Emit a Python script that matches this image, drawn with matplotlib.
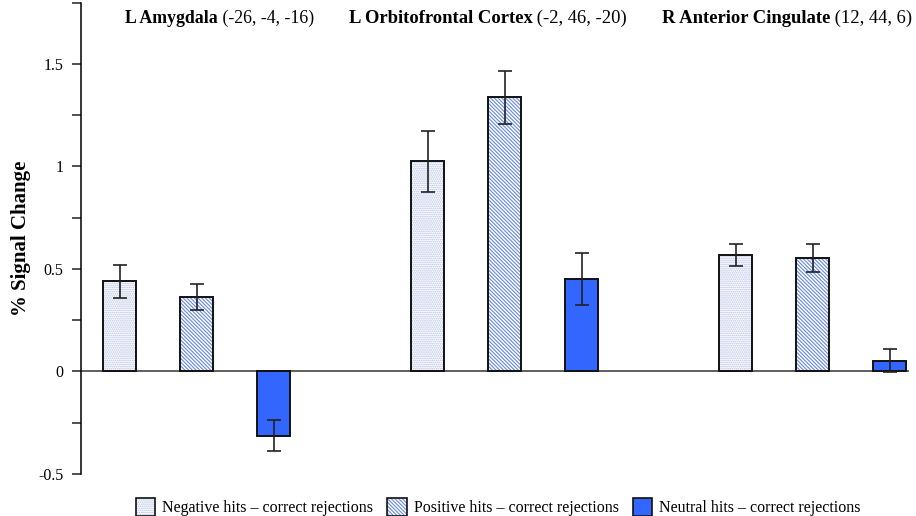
"""Signal change bar chart for three regions of interest."""

import matplotlib

matplotlib.use("Agg")
import matplotlib.pyplot as plt
import numpy as np
from matplotlib.legend_handler import HandlerTuple
from matplotlib.patches import Patch
from matplotlib.ticker import FixedLocator

plt.rcParams["font.family"] = ["Liberation Serif", "DejaVu Serif"]
plt.rcParams["hatch.linewidth"] = 0.8

# Data
regions = ["L Amygdala", "L Orbitofrontal Cortex", "R Anterior Cingulate"]
coords = ["(-26, -4, -16)", "(-2, 46, -20)", "(12, 44, 6)"]
conditions = [
    "Negative hits \u2013 correct rejections",
    "Positive hits \u2013 correct rejections",
    "Neutral hits \u2013 correct rejections",
]
# one row per condition, one column per region
means = np.array([
    [0.44, 1.023, 0.567],
    [0.363, 1.335, 0.552],
    [-0.313, 0.452, 0.053],
])
errors = np.array([
    [0.081, 0.147, 0.055],
    [0.064, 0.127, 0.068],
    [0.076, 0.127, 0.054],
])
yticks = [-0.5, 0, 0.5, 1, 1.5]
yticklabels = ["-0.5", "0", "0.5", "1", "1.5"]

# Styling per condition
face_colors = ["white", "white", "#3366ff"]
hatch_colors = ["#b3bee6", "#6688ea", "#3366ff"]
hatches = ["........", "\\" * 9, None]

GROUP_STEP = 4
BAR_W = 0.43
YMAX = 1.795

fig = plt.figure(figsize=(9.16, 5.16), dpi=100)
ax = fig.add_axes([0.0884, 0.0814, 0.904, 0.9126])

for c in range(len(conditions)):
    x = np.arange(len(regions)) * GROUP_STEP + c
    # hatched fill first, black outline drawn on top
    ax.bar(x, means[c], width=BAR_W, color=face_colors[c],
           edgecolor=hatch_colors[c], hatch=hatches[c], linewidth=0, zorder=2)
    ax.bar(x, means[c], width=BAR_W, fill=False, edgecolor="#111111",
           linewidth=1.4, zorder=3)
    ax.errorbar(x, means[c], yerr=errors[c], fmt="none", ecolor="#222222",
                elinewidth=1.2, capsize=4.8, capthick=1.2, zorder=4)

ax.axhline(0, color="#444444", linewidth=1.2, zorder=1)

ax.set_xlim(-0.506, 10.25)
ax.set_ylim(-0.5, YMAX)
ax.set_xticks([])
ax.set_yticks(yticks)
ax.set_yticklabels(yticklabels, fontsize=11.5)
ax.yaxis.set_minor_locator(FixedLocator([-0.25, 0.25, 0.75, 1.25, YMAX]))
ax.tick_params(axis="y", which="both", direction="out", length=6.5, width=1.1,
               color="#222222", pad=6)
for side in ("top", "right", "bottom"):
    ax.spines[side].set_visible(False)
ax.spines["left"].set_linewidth(1.1)
ax.set_ylabel("% Signal Change", fontsize=15, fontweight="bold", labelpad=5)

# Region headings: bold name followed by MNI coordinates
title_x = [0.065, 2.97, 7.04]
title_size = [12.8, 13.4, 13.4]
for name, xyz, tx, fs in zip(regions, coords, title_x, title_size):
    t = ax.text(tx, 1.72, name, fontsize=fs, fontweight="bold",
                ha="left", va="center")
    ax.annotate(" " + xyz, xy=(1, 0), xycoords=t, fontsize=fs,
                ha="left", va="bottom")

handles = []
for c in range(len(conditions)):
    fill = Patch(facecolor=face_colors[c], edgecolor=hatch_colors[c],
                 hatch=hatches[c], linewidth=0)
    outline = Patch(fill=False, edgecolor="#111111", linewidth=1.2)
    handles.append((fill, outline))

fig.legend(handles, conditions, handler_map={tuple: HandlerTuple(ndivide=1)},
           loc="lower center", bbox_to_anchor=(0.544, -0.028), ncol=3,
           frameon=False, fontsize=11.5, handlelength=1.2, handleheight=1.4,
           handletextpad=0.45, columnspacing=0.9)

fig.savefig("out.png", dpi=100)
